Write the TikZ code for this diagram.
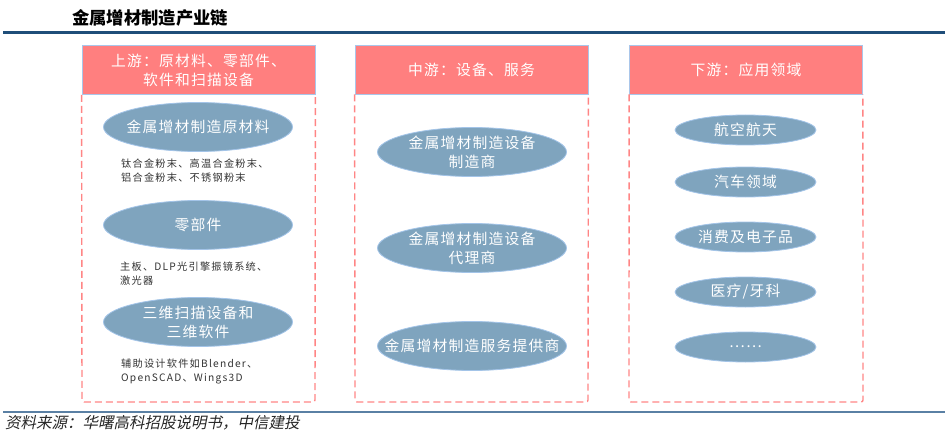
\documentclass[tikz,border=0pt]{standalone}
\usepackage{fontspec}
\usetikzlibrary{shapes.geometric}
\setmainfont{Noto Sans CJK SC}
\newfontfamily\cjk{Noto Sans CJK SC}
\newfontfamily\cjksp[LetterSpace=8]{Noto Sans CJK SC}
\newfontfamily\cjkspn[LetterSpace=12]{Noto Sans CJK SC}
\newfontfamily\cjkit[FakeSlant=0.2]{Noto Sans CJK SC}
\definecolor{hdrred}{HTML}{FF7F7F}
\definecolor{hdrline}{HTML}{A9C6EA}
\definecolor{ellfill}{HTML}{7FA4BE}
\definecolor{ellline}{HTML}{A3C4E8}
\definecolor{dashcol}{HTML}{FF8585}
\definecolor{titleblue}{HTML}{1F4E79}
\definecolor{footblue}{HTML}{5A80A4}
\tikzset{
  hdr/.style={rectangle, fill=hdrred, draw=hdrline, line width=0.8pt, minimum width=233pt, minimum height=49pt, inner sep=0pt, text=white, align=center, font=\cjksp\fontsize{14.8}{19}\selectfont},
  frame/.style={draw=dashcol, line width=1.4pt, dash pattern=on 7pt off 4pt, rounded corners=2pt},
  ellbig/.style={ellipse, fill=ellfill, draw=ellline, line width=0.8pt, minimum width=189pt, minimum height=49pt, inner sep=0pt, text=white, align=center, font=\cjksp\fontsize{14.8}{19}\selectfont},
  ellsmall/.style={ellipse, fill=ellfill, draw=ellline, line width=0.8pt, minimum width=141pt, minimum height=30pt, inner sep=0pt, text=white, align=center, font=\cjksp\fontsize{14.8}{18}\selectfont},
  note/.style={anchor=north west, inner sep=0pt, align=left, text=black!80, font=\cjkspn\fontsize{10.2}{14}\selectfont},
}
\begin{document}
\begin{tikzpicture}[x=1pt,y=-1pt]
\useasboundingbox (0,0) rectangle (945,433);
% title
\node[anchor=west, inner sep=0pt, font=\cjk\bfseries\fontsize{17.3}{20}\selectfont] (title) at (72,18) {金属增材制造产业链};
\draw[titleblue, line width=3pt] (3,33) -- (945,33);
% headers
\node[hdr] (h1) at (198.5,70) {上游：原材料、零部件、\\软件和扫描设备};
\node[hdr] (h2) at (471.5,69.5) {中游：设备、服务};
\node[hdr] (h3) at (746,69.5) {下游：应用领域};
% dashed frames
\draw[frame] (h1.south west) -- (82,402) -- (315,402) -- (h1.south east);
\draw[frame] (h2.south west) -- (355,402) -- (588,402) -- (h2.south east);
\draw[frame] (h3.south west) -- (629,402) -- (863,402) -- (h3.south east);
% left column
\node[ellbig] (l1) at (198,127) {\makebox[0pt]{金属增材制造原材料}};
\node[note] (n1) at (121,159) {钛合金粉末、高温合金粉末、\\铝合金粉末、不锈钢粉末};
\node[ellbig] (l2) at (198,225) {零部件};
\node[note] (n2) at (120,262) {主板、DLP光引擎振镜系统、\\激光器};
\node[ellbig] (l3) at (198,322) {三维扫描设备和\\三维软件};
\node[note] (n3) at (121,359) {辅助设计软件如Blender、\\OpenSCAD、Wings3D};
% middle column
\node[ellbig] (m1) at (472,152) {金属增材制造设备\\制造商};
\node[ellbig] (m2) at (472,248) {金属增材制造设备\\代理商};
\node[ellbig] (m3) at (472,346) {\makebox[0pt]{金属增材制造服务提供商}};
% right column
\node[ellsmall] (r1) at (745.5,130) {航空航天};
\node[ellsmall] (r2) at (745.5,182) {汽车领域};
\node[ellsmall] (r3) at (745.5,237) {消费及电子品};
\node[ellsmall] (r4) at (745.5,292) {医疗/牙科};
\node[ellsmall] (r5) at (745.5,347) {……};
% footer
\draw[footblue, line width=1.5pt] (3,412) -- (945,412);
\node[anchor=west, inner sep=0pt, text=black!85, font=\cjkit\fontsize{15.5}{18}\selectfont] (src) at (5,423) {资料来源：华曙高科招股说明书，中信建投};
\end{tikzpicture}
\end{document}
